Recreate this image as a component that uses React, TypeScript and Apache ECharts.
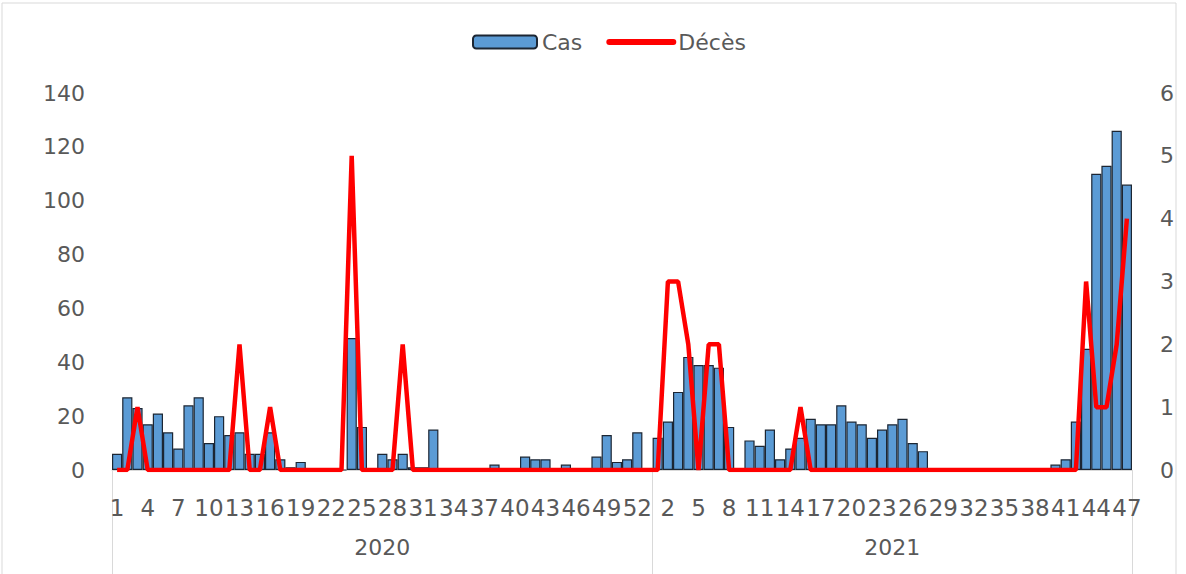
import React, { useEffect, useRef } from "react";
import * as echarts from "echarts";

const weeks2020: number[] = Array.from({ length: 53 }, (_, i) => i + 1);
const weeks2021: number[] = Array.from({ length: 47 }, (_, i) => i + 1);
const categories: string[] = [
  ...weeks2020.map((w) => `2020-${w}`),
  ...weeks2021.map((w) => `2021-${w}`),
];

const cas2020: number[] = [
  6, 27, 23, 17, 21, 14, 8, 24, 27, 10, 20, 13, 14, 6, 6, 14, 4, 1, 3, 0,
  0, 0, 0, 49, 16, 0, 6, 4, 6, 1, 1, 15, 0, 0, 0, 0, 0, 2, 0, 0,
  5, 4, 4, 0, 2, 0, 0, 5, 13, 3, 4, 14, 0,
];
const cas2021: number[] = [
  12, 18, 29, 42, 39, 39, 38, 16, 0, 11, 9, 15, 4, 8, 12, 19, 17, 17, 24, 18,
  17, 12, 15, 17, 19, 10, 7, 0, 0, 0, 0, 0, 0, 0, 0, 0, 0, 0, 0, 2,
  4, 18, 45, 110, 113, 126, 106,
];
const deces2020: number[] = [
  0, 0, 1, 0, 0, 0, 0, 0, 0, 0, 0, 0, 2, 0, 0, 1, 0, 0, 0, 0,
  0, 0, 0, 5, 0, 0, 0, 0, 2, 0, 0, 0, 0, 0, 0, 0, 0, 0, 0, 0,
  0, 0, 0, 0, 0, 0, 0, 0, 0, 0, 0, 0, 0,
];
const deces2021: number[] = [
  0, 3, 3, 2, 0, 2, 2, 0, 0, 0, 0, 0, 0, 0, 1, 0, 0, 0, 0, 0,
  0, 0, 0, 0, 0, 0, 0, 0, 0, 0, 0, 0, 0, 0, 0, 0, 0, 0, 0, 0,
  0, 0, 3, 1, 1, 2, 4,
];
const cas = [...cas2020, ...cas2021];
const deces = [...deces2020, ...deces2021];
const years = ["2020", "2021"];
const leftTicks = { min: 0, max: 140, interval: 20 };
const rightTicks = { min: 0, max: 6, interval: 1 };

const FONT = "DejaVu Sans";
const GRAY = "#595959";

export default function App() {
  const ref = useRef<HTMLDivElement>(null);
  useEffect(() => {
    if (!ref.current) return;
    const chart = echarts.init(ref.current, null, { renderer: "svg" });
    const n2020 = weeks2020.length;
    const mid2020 = Math.floor((n2020 - 1) / 2);
    const mid2021 = n2020 + Math.floor((weeks2021.length - 1) / 2);
    chart.setOption({
      animation: false,
      backgroundColor: "#ffffff",
      textStyle: { fontFamily: FONT },
      graphic: [
        {
          type: "rect",
          shape: { x: 2, y: 3, width: 1174, height: 590 },
          style: { fill: "none", stroke: "#d9d9d9", lineWidth: 1 },
          silent: true,
        },
      ],
      legend: {
        top: 26,
        left: 467,
        itemWidth: 64,
        itemHeight: 13,
        itemGap: 24,
        textStyle: { fontSize: 22, color: GRAY, fontFamily: FONT },
        data: [
          { name: "Cas" },
          {
            name: "Décès",
            itemStyle: { color: "rgba(0,0,0,0)", borderWidth: 0, opacity: 0 },
            lineStyle: { color: "#ff0000", width: 6, cap: "round" },
          },
        ],
      },
      grid: {
        left: 112,
        right: 54,
        top: 93,
        bottom: 104,
        containLabel: false,
        outerBoundsMode: "none",
      },
      xAxis: [
        {
          type: "category",
          data: categories,
          position: "bottom",
          axisLine: { show: true, lineStyle: { color: "#d9d9d9", width: 1 } },
          axisTick: { show: false },
          axisLabel: {
            interval: 2,
            margin: 26,
            fontSize: 23,
            color: GRAY,
            fontFamily: FONT,
            formatter: (v: string) => v.split("-")[1],
          },
          splitLine: { show: false },
        },
        {
          type: "category",
          data: categories,
          position: "bottom",
          offset: 0,
          axisLine: { show: false },
          axisTick: {
            show: true,
            length: 104,
            interval: (i: number) => i === 0 || i === n2020,
            lineStyle: { color: "#d9d9d9", width: 1 },
          },
          axisLabel: {
            interval: (i: number) => i === mid2020 || i === mid2021,
            margin: 66,
            fontSize: 22,
            color: GRAY,
            fontFamily: FONT,
            formatter: (v: string) => (v.startsWith(years[0]) ? years[0] : years[1]),
          },
          splitLine: { show: false },
        },
      ],
      yAxis: [
        {
          type: "value",
          ...leftTicks,
          position: "left",
          axisLine: { show: false },
          axisTick: { show: false },
          splitLine: { show: false },
          axisLabel: { fontSize: 22, color: GRAY, margin: 27, fontFamily: FONT },
        },
        {
          type: "value",
          ...rightTicks,
          position: "right",
          axisLine: { show: false },
          axisTick: { show: false },
          splitLine: { show: false },
          axisLabel: { fontSize: 22, color: GRAY, margin: 28, fontFamily: FONT },
        },
      ],
      series: [
        {
          name: "Cas",
          type: "bar",
          xAxisIndex: 0,
          yAxisIndex: 0,
          data: cas,
          barCategoryGap: "0%",
          itemStyle: { color: "#5B9BD5", borderColor: "#1c2633", borderWidth: 1.2 },
          z: 2,
        },
        {
          name: "Décès",
          type: "line",
          xAxisIndex: 0,
          yAxisIndex: 1,
          data: deces,
          symbol: "none",
          lineStyle: { color: "#ff0000", width: 4.5 },
          itemStyle: { color: "#ff0000" },
          z: 3,
        },
      ],
    });
    return () => chart.dispose();
  }, []);
  return (
    <div
      ref={ref}
      style={{ position: "fixed", left: 0, top: 0, width: 1186, height: 574 }}
    />
  );
}
